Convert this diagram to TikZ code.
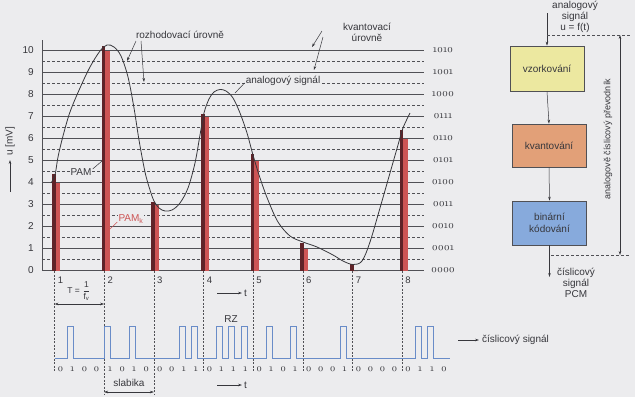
\documentclass[tikz,border=0pt]{standalone}
\usepackage{fontspec}
\usepackage{amsmath}
\setsansfont{Liberation Sans}
\renewcommand{\familydefault}{\sfdefault}
\newfontfamily\osf{lmroman10-regular}[Extension=.otf,Numbers=OldStyle]
\usetikzlibrary{arrows.meta}
\definecolor{bg}{RGB}{236,236,238}
\definecolor{ink}{RGB}{55,55,60}
\definecolor{grid}{RGB}{80,80,85}
\definecolor{pamred}{RGB}{205,85,85}
\definecolor{pamdark}{RGB}{95,35,40}
\definecolor{sigblue}{RGB}{105,140,200}
\definecolor{yel}{RGB}{236,232,160}
\definecolor{ora}{RGB}{226,160,120}
\definecolor{blu}{RGB}{135,170,220}
\tikzset{
 lvl/.style={draw=grid, line width=0.6pt},
 hlvl/.style={draw=grid, line width=0.5pt, dash pattern=on 3pt off 2pt},
 vdash/.style={draw=grid, line width=0.5pt, dash pattern=on 2pt off 1.5pt},
 lbl/.style={text=ink, inner sep=1pt},
 ptr/.style={draw=ink, line width=0.5pt, -{Stealth[length=4pt,width=2.6pt]}},
 dptr/.style={draw=ink, line width=0.5pt, {Stealth[length=4pt,width=2.6pt]}-{Stealth[length=4pt,width=2.6pt]}},
 blk/.style={draw=grid, line width=0.7pt, minimum width=74pt, text=ink, align=center, font=\fontsize{10}{12}\selectfont},
 sig/.style={draw=sigblue, line width=0.8pt},
}
\begin{document}
\begin{tikzpicture}[x=1pt,y=-1pt,font=\fontsize{10}{11}\selectfont]
\fill[bg] (0,0) rectangle (635,397);
\useasboundingbox (0,0) rectangle (635,397);
% grid
\foreach \k in {0,...,9} \draw[hlvl] (42,{270.5-22*(\k+0.5)}) -- (424,{270.5-22*(\k+0.5)});
\foreach \k in {0,...,10} \draw[lvl] (42,{270.5-22*\k}) -- (424,{270.5-22*\k});
\draw[lvl] (42,40) -- (42,271);
% axis labels
\foreach \k in {0,...,10} \node[lbl,anchor=east] (yl\k) at (35,{270.5-22*\k}) {\k};
\foreach \c [count=\i from 0] in {0000,0001,0010,0011,0100,0101,0110,0111,1000,1001,1010}
  \node[lbl] (code\i) at (443,{270.5-22*\i}) {\osf\fontsize{10.5}{11}\selectfont \c};
% bars, sample lines, numbers
\foreach \n/\s/\q in {1/4.4/4,2/10.2/10,3/3.1/3,4/7.1/7,5/5.3/5,6/1.25/1,7/0.3/0,8/6.4/6} {
  \pgfmathsetmacro\xx{54.5+49.65*(\n-1)}
  \fill[pamred] (\xx+0.5,270.5) rectangle (\xx+5.5,{270.5-22*\q});
  \fill[pamdark] (\xx-2.5,270.5) rectangle (\xx+1.2,{270.5-22*\s});
  \node[lbl,font=\fontsize{9.5}{10}\selectfont] (sn\n) at (\xx+6,280) {\n};
}
\foreach \n in {1,4,5,6,7,8} {
  \pgfmathsetmacro\xx{54.5+49.65*(\n-1)}
  \draw[vdash] (\xx,271) -- (\xx,372);
}
\foreach \n in {2,3} {
  \pgfmathsetmacro\xx{54.5+49.65*(\n-1)}
  \draw[vdash] (\xx,271) -- (\xx,395);
}
% analog curve
\draw[ink, line width=0.8pt] plot[smooth, tension=0.55] coordinates {
(51,183) (55,175) (58,157) (63,136) (70,112) (80,88) (90,67) (100,51) (107,45) (114,47) (121,56) (128,77) (134,108) (139,140) (145,172) (150,190) (154,201) (159,208) (165,211) (172,210) (180,203) (188,188) (195,163) (200,135) (204,113) (209,99) (214,92) (220,89.5) (226,91) (233,98) (240,113) (247,133) (253,155) (260,178) (268,200) (278,222) (290,236) (303,242) (317,247) (333,255) (343,261) (353,264.5) (362,261) (370,242) (380,208) (390,173) (398,145) (403,128) (410,113)};
% pointer labels
\node[lbl] (rozh) at (180,35) {rozhodovací úrovně};
\coordinate (r1) at (127,61); \coordinate (r2) at (144,82);
\draw[ptr] (136,41) -- (r1);
\draw[ptr] (141,41) -- (r2);
\node[lbl,align=center] (kvant) at (367,32) {kvantovací\\úrovně};
\coordinate (k1) at (312,47); \coordinate (k2) at (314,70);
\draw[ptr] (322,31) -- (k1);
\draw[ptr] (323,37) -- (k2);
\node[lbl,fill=bg] (anal) at (283,81) {analogový signál};
\coordinate (an) at (235,93);
\draw[ink,line width=0.5pt] (anal.west) ++(0,2) -- (an);
\node[lbl,fill=bg] (pam) at (81,172) {PAM};
\coordinate (pm) at (102,161);
\draw[ink,line width=0.5pt] (pam.east) ++(0,-3) -- (pm);
\node[lbl,fill=bg,text=pamred] (pamk) at (131,219) {PAM\textsubscript{k}};
\coordinate (pk) at (110,229);
\draw[pamred,line width=0.5pt] (pamk.west) ++(0,3) -- (pk);
% vertical axis label
\node[lbl,rotate=90] (ulab) at (10,141.5) {u [mV]};
\coordinate (ua) at (10,192);
\coordinate (ub) at (10,160);
\draw[ptr] (ua) -- (ub);
% time arrows
\coordinate (t1a) at (217,293); \coordinate (t1b) at (242,293);
\draw[ptr] (t1a) -- (t1b);
\node[lbl,anchor=west] (t1) at (243,293) {t};
\coordinate (t2a) at (217,385); \coordinate (t2b) at (242,385);
\draw[ptr] (t2a) -- (t2b);
\node[lbl,anchor=west] (t2) at (243,385) {t};
% period
\node[lbl,font=\fontsize{8.5}{9}\selectfont,inner sep=0pt] (per) at (79,291) {T = $\dfrac{\textsf{1}}{\textsf{f}_{\textsf{v}}}$};
\coordinate (pa) at (54.5,304); \coordinate (pb) at (104.15,304);
\draw[dptr] (pa) -- (pb);
% digital signal
\draw[sig] (54.5,358) \foreach \g in {1,4,6,10,11,13,14,15,17,19,23,29,30} {
  -- ({55+12.4125*\g},358) -- ++(0,-32) -- ++(6,0) -- ++(0,32) } -- (450,358);
\node[lbl] (rz) at (231,319) {RZ};
\foreach \n/\a/\b/\c/\d in {1/0/1/0/0,2/1/0/1/0,3/0/0/1/1,4/0/1/1/1,5/0/1/0/1,6/0/0/0/1,7/0/0/0/0,8/0/1/1/0} {
  \pgfmathsetmacro\xx{54.5+49.65*(\n-1)}
  \node[lbl] (b\n a) at (\xx+6,369) {\osf\a};
  \node[lbl] (b\n b) at (\xx+18,369) {\osf\b};
  \node[lbl] (b\n c) at (\xx+30,369) {\osf\c};
  \node[lbl] (b\n d) at (\xx+42,369) {\osf\d};
}
\coordinate (csa) at (458,340); \coordinate (csb) at (479,340);
\draw[ptr] (csa) -- (csb);
\node[lbl,anchor=west] (cs) at (481,340) {číslicový signál};
\node[lbl] (slab) at (129,383) {slabika};
\coordinate (sa) at (104.15,392); \coordinate (sb) at (153.8,392);
\draw[dptr] (sa) -- (sb);
% right side blocks
\node[lbl,align=center,font=\fontsize{10}{11}\selectfont] (ain) at (575,17) {analogový\\signál\\u = f(t)};
\node[blk,fill=yel,minimum height=45pt] (vz) at (547,68.5) {vzorkování};
\node[blk,fill=ora,minimum height=43pt] (kv) at (549,145.5) {kvantování};
\node[blk,fill=blu,minimum height=44pt] (bk) at (549.5,223) {binární\\kódování};
\coordinate (inp) at (547,13);
\draw[ptr] (inp) -- (vz.north);
\draw[ptr] (vz.south) -- (kv.north);
\draw[ptr] (kv.south) -- (bk.north);
\coordinate (outp) at (549.5,277);
\draw[ptr] (bk.south) -- (outp);
\node[lbl,align=center] (pcm) at (576,283) {číslicový\\signál\\PCM};
\coordinate (d1a) at (547,35); \coordinate (d1b) at (630,35);
\coordinate (d2a) at (551,255); \coordinate (d2b) at (630,255);
\draw[hlvl] (d1a) -- (d1b);
\draw[hlvl] (d2a) -- (d2b);
\coordinate (va) at (620,35); \coordinate (vb) at (620,255);
\draw[dptr] (va) -- (vb);
\node[lbl,rotate=90,font=\fontsize{9}{10}\selectfont] (adc) at (608,139) {analogově číslicový převodník};
\end{tikzpicture}
\end{document}
